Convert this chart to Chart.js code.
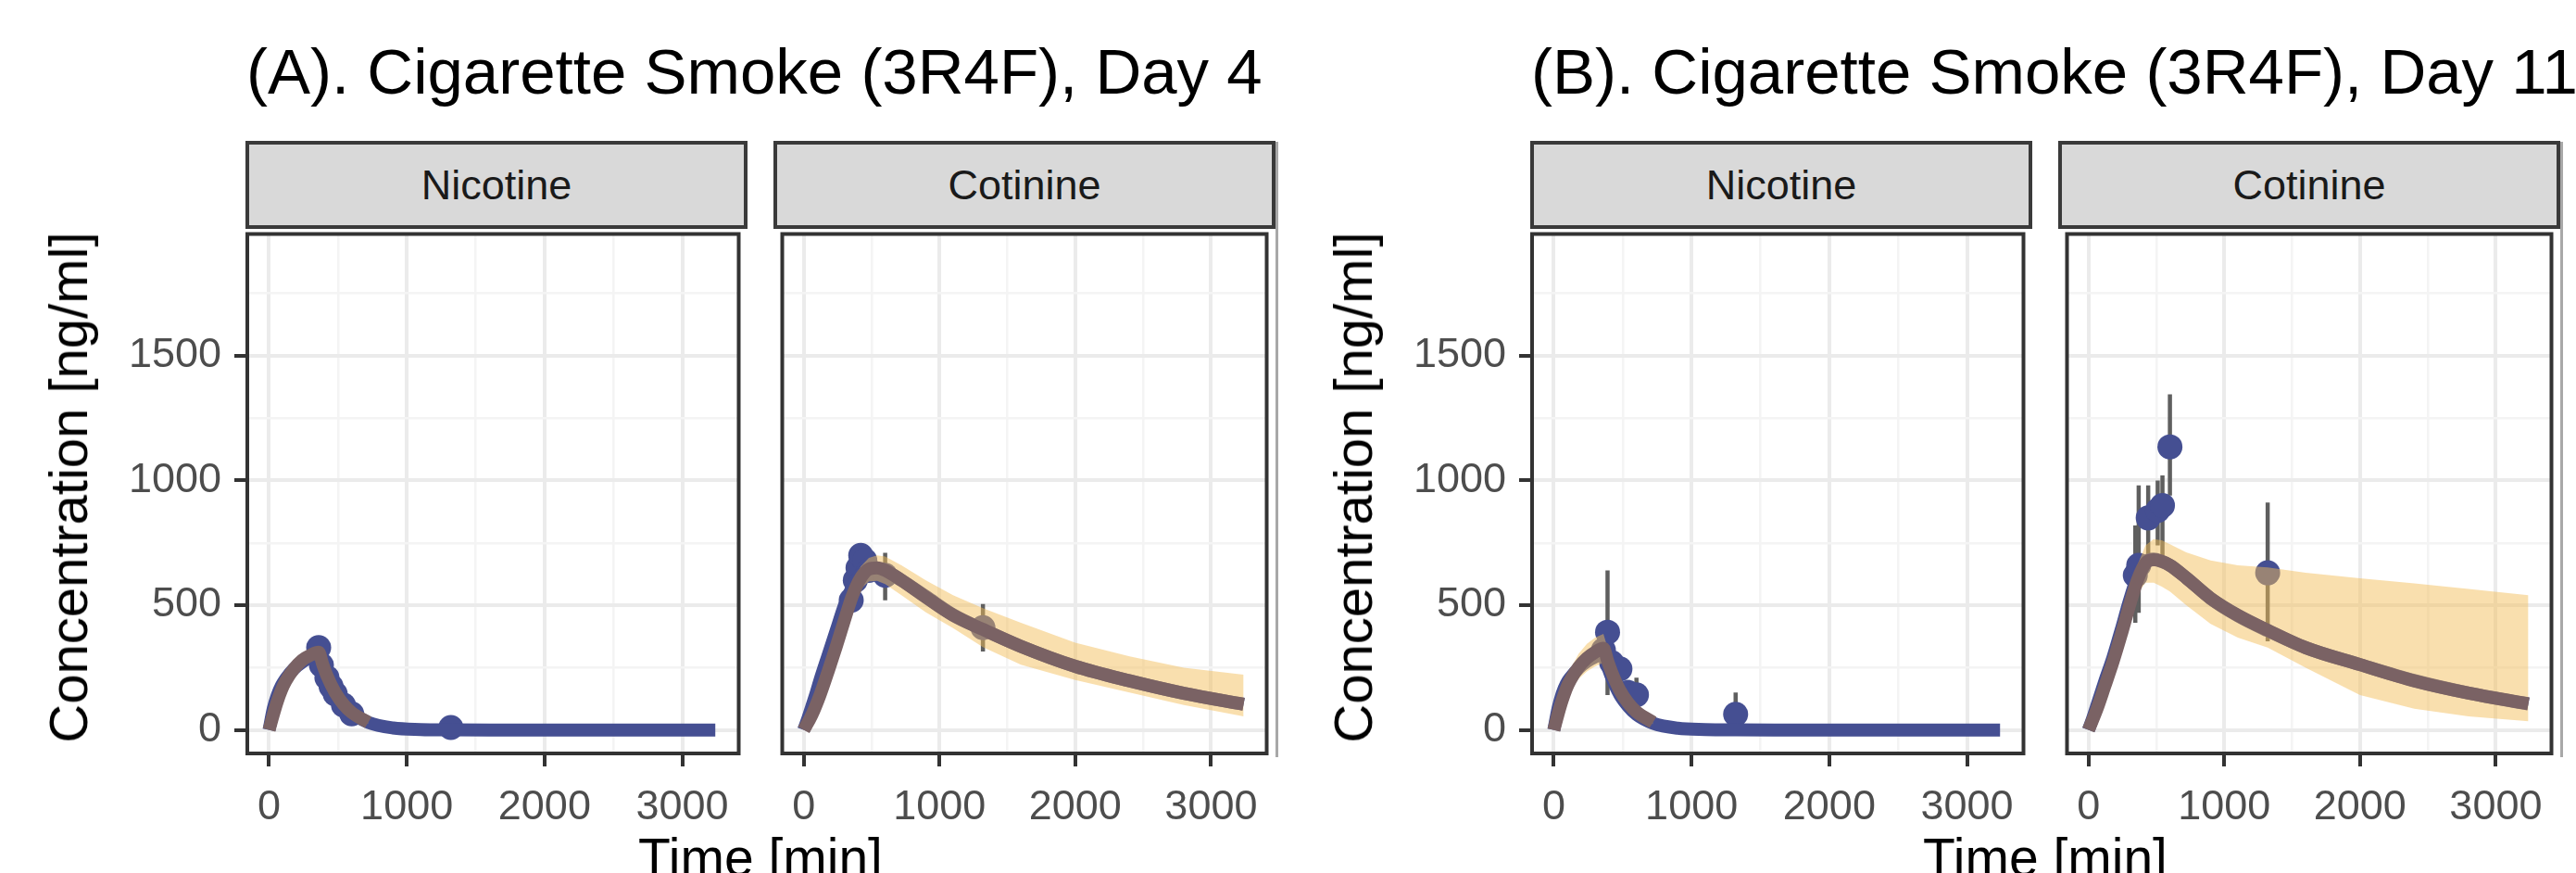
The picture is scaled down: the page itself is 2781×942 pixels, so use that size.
<!DOCTYPE html>
<html>
<head>
<meta charset="utf-8">
<script src="https://cdn.jsdelivr.net/npm/chart.js@4.4.1/dist/chart.umd.min.js"></script>
<style>
html,body{margin:0;padding:0;background:#fff;}
#root{position:relative;width:2781px;height:942px;overflow:hidden;background:#fff;font-family:"Liberation Sans",Arial,Helvetica,sans-serif;}
.title{position:absolute;font-size:69px;line-height:69px;color:#000;white-space:nowrap;}
.strip{position:absolute;box-sizing:border-box;background:#D9D9D9;border:4px solid #3a3a3a;font-size:45px;color:#1a1a1a;display:flex;align-items:center;justify-content:center;}
.ytitle{position:absolute;font-size:58px;line-height:58px;color:#000;white-space:nowrap;transform:translate(-50%,-50%) rotate(-90deg);}
.xtitle{position:absolute;font-size:57px;line-height:57px;color:#000;white-space:nowrap;transform:translateX(-50%);}
.shadow{position:absolute;background:#a8a8a8;}
canvas{position:absolute;}
</style>
</head>
<body>
<div id="root">
  <canvas id="cAN"></canvas>
  <canvas id="cAC"></canvas>
  <canvas id="cBN"></canvas>
  <canvas id="cBC"></canvas>
</div>
<script>
// ---------- text ----------
const plotTitles = ["(A). Cigarette Smoke (3R4F), Day 4", "(B). Cigarette Smoke (3R4F), Day 11"];
const stripLabels = ["Nicotine", "Cotinine"];
const xAxisTitle = "Time [min]";
const yAxisTitle = "Concentration [ng/ml]";

// ---------- axes ----------
const xMajorTicks = [0, 1000, 2000, 3000];
const xMinorTicks = [500, 1500, 2500];
const yMajorTicks = [0, 500, 1000, 1500];
const yMinorTicks = [250, 750, 1250, 1750];
const X_MIN = -158, X_MAX = 3410, Y_MIN = -94, Y_MAX = 1988;

// ---------- model fit (blue line) ----------
const fitTime = [0, 30, 60, 90, 120, 180, 240, 300, 360, 390, 420, 480, 540, 600, 720, 900, 1100, 1320, 1600, 2000, 2400, 2800, 3240];
const nicA_fit = [0, 85, 140, 178, 205, 245, 272, 292, 305, 255, 210, 145, 100, 68, 30, 8, 2, 0.5, 0, 0, 0, 0, 0];
const cotA_fit = [0, 45, 95, 145, 200, 300, 400, 500, 575, 605, 625, 645, 648, 638, 600, 535, 462, 403, 335, 255, 197, 147, 103];
const nicB_fit = [0, 85, 145, 185, 210, 248, 275, 293, 303, 255, 210, 140, 95, 62, 27, 7, 2, 0.5, 0, 0, 0, 0, 0];
const cotB_fit = [0, 45, 95, 145, 195, 290, 400, 515, 615, 650, 675, 685, 675, 660, 610, 527, 458, 398, 330, 262, 198, 148, 104];

// ---------- simulation mean (brown line) and interval (ribbon) ----------
const simNicTime = [0, 30, 60, 90, 120, 180, 240, 300, 360, 390, 420, 480, 540, 600, 720];
const nicA_sim = [0, 60, 115, 160, 195, 245, 280, 300, 312, 262, 218, 150, 103, 70, 30];
const nicA_lo  = [0, 50, 100, 142, 175, 222, 255, 275, 287, 238, 198, 135, 92, 60, 24];
const nicA_hi  = [0, 70, 130, 178, 215, 268, 305, 325, 337, 286, 238, 165, 114, 80, 36];
const nicB_sim = [0, 62, 118, 165, 200, 252, 288, 312, 328, 278, 232, 158, 108, 73, 31];
const nicB_lo  = [0, 48, 95, 132, 162, 205, 235, 255, 270, 228, 190, 128, 88, 58, 23];
const nicB_hi  = [0, 80, 148, 205, 245, 305, 345, 370, 385, 330, 280, 190, 130, 90, 40];

const simCotTime = [0, 60, 120, 180, 240, 300, 360, 420, 480, 540, 600, 720, 900, 1100, 1320, 1600, 2000, 2400, 2800, 3240];
const cotA_sim = [0, 60, 140, 235, 335, 440, 540, 610, 645, 650, 640, 600, 532, 460, 403, 335, 255, 197, 147, 103];
const cotA_lo  = [0, 50, 120, 210, 305, 405, 500, 565, 595, 598, 585, 540, 472, 408, 332, 262, 200, 150, 100, 55];
const cotA_hi  = [0, 70, 160, 260, 365, 475, 580, 655, 690, 700, 695, 660, 600, 540, 488, 430, 350, 295, 250, 222];
const cotB_sim = [0, 80, 175, 272, 380, 495, 600, 668, 682, 676, 660, 610, 528, 460, 400, 330, 262, 197, 148, 105];
const cotB_lo  = [0, 65, 145, 230, 330, 440, 545, 590, 590, 575, 555, 500, 425, 370, 330, 250, 140, 85, 55, 35];
const cotB_hi  = [0, 95, 200, 310, 425, 545, 660, 740, 765, 760, 745, 712, 680, 660, 652, 630, 608, 588, 565, 540];

// ---------- observed data (points with error bars) ----------
const nicA_obsT  = [360, 380, 420, 450, 480, 540, 600, 1320];
const nicA_obsY  = [330, 260, 210, 175, 145, 100, 65, 10];
const nicA_obsLo = [305, 240, 190, 158, 128, 85, 50, 0];
const nicA_obsHi = [355, 280, 230, 192, 162, 115, 80, 20];

const cotA_obsT  = [350, 380, 400, 420, 450, 480, 600, 1320];
const cotA_obsY  = [520, 600, 650, 700, 680, 640, 620, 410];
const cotA_obsLo = [490, 565, 615, 665, 645, 605, 520, 315];
const cotA_obsHi = [550, 635, 685, 735, 715, 675, 710, 505];

const nicB_obsT  = [360, 390, 420, 480, 540, 600, 1320];
const nicB_obsY  = [320, 392, 270, 245, 150, 141, 63];
const nicB_obsLo = [260, 140, 220, 200, 110, 95, -20];
const nicB_obsHi = [380, 640, 320, 290, 200, 210, 150];

const cotB_obsT  = [345, 370, 440, 510, 545, 600, 1320];
const cotB_obsY  = [620, 660, 850, 880, 900, 1135, 630];
const cotB_obsLo = [430, 470, 700, 740, 700, 940, 355];
const cotB_obsHi = [820, 980, 980, 1000, 1020, 1345, 912];

// ---------- styling ----------
const FONT = '"Liberation Sans", Arial, Helvetica, sans-serif';
const BLUE = '#454F92';
const BROWN = '#7A6264';
const RIBBON = 'rgba(243,189,85,0.48)';
const ERRC = '#5f5f5f';

// layout (page px)
const PANEL_TOP = 245, PANEL_BOTTOM = 813, PANEL_W = 538;
const panels = [
  {id: 'cAN', left: 267,  isLeft: true,  strip: 0, fit: nicA_fit, simT: simNicTime, sim: nicA_sim, lo: nicA_lo, hi: nicA_hi, oT: nicA_obsT, oY: nicA_obsY, oLo: nicA_obsLo, oHi: nicA_obsHi},
  {id: 'cAC', left: 837,  isLeft: false, strip: 1, fit: cotA_fit, simT: simCotTime, sim: cotA_sim, lo: cotA_lo, hi: cotA_hi, oT: cotA_obsT, oY: cotA_obsY, oLo: cotA_obsLo, oHi: cotA_obsHi},
  {id: 'cBN', left: 1654, isLeft: true,  strip: 0, fit: nicB_fit, simT: simNicTime, sim: nicB_sim, lo: nicB_lo, hi: nicB_hi, oT: nicB_obsT, oY: nicB_obsY, oLo: nicB_obsLo, oHi: nicB_obsHi},
  {id: 'cBC', left: 2224, isLeft: false, strip: 1, fit: cotB_fit, simT: simCotTime, sim: cotB_sim, lo: cotB_lo, hi: cotB_hi, oT: cotB_obsT, oY: cotB_obsY, oLo: cotB_obsLo, oHi: cotB_obsHi}
];

const root = document.getElementById('root');
function addDiv(cls, text, css) {
  const d = document.createElement('div');
  d.className = cls;
  if (text) d.textContent = text;
  Object.assign(d.style, css);
  root.appendChild(d);
  return d;
}

// titles, axis titles
[[267, 0], [1654, 1]].forEach(([l, k]) => {
  addDiv('title', plotTitles[k], {left: (l - 1) + 'px', top: '43px'});
  addDiv('ytitle', yAxisTitle, {left: (l - 193) + 'px', top: '526px'});
  addDiv('xtitle', xAxisTitle, {left: (l + (570 + PANEL_W) / 2) + 'px', top: '897px'});
});

// strips
panels.forEach(p => {
  addDiv('strip', stripLabels[p.strip], {left: (p.left - 2) + 'px', top: '152px', width: (PANEL_W + 4) + 'px', height: (PANEL_TOP + 2 - 152) + 'px'});
  if (!p.isLeft) addDiv('shadow', '', {left: (p.left + PANEL_W + 2) + 'px', top: '153px', width: '3px', height: (PANEL_BOTTOM + 4 - 153) + 'px'});
});

const borderPlugin = {
  id: 'panelBorder',
  afterDraw(chart) {
    const {ctx, chartArea: a} = chart;
    ctx.save();
    ctx.strokeStyle = '#333333';
    ctx.lineWidth = 4;
    ctx.strokeRect(a.left, a.top, a.right - a.left, a.bottom - a.top);
    ctx.restore();
  }
};

const pts = (xs, ys) => xs.map((x, i) => ({x: x, y: ys[i]}));

panels.forEach(p => {
  const cv = document.getElementById(p.id);
  const yW = p.isLeft ? 180 : 0;
  const padL = p.isLeft ? 0 : 6;
  const padT = 6, padR = 6, xH = 100;
  const W = padL + yW + PANEL_W + padR;
  const H = padT + (PANEL_BOTTOM - PANEL_TOP) + xH;
  cv.width = W; cv.height = H;
  cv.style.width = W + 'px'; cv.style.height = H + 'px';
  cv.style.left = (p.left - yW - padL) + 'px';
  cv.style.top = (PANEL_TOP - padT) + 'px';

  const err = [];
  p.oT.forEach((t, i) => { err.push({x: t, y: p.oLo[i]}, {x: t, y: p.oHi[i]}, {x: t, y: null}); });

  const xAll = xMinorTicks.concat(xMajorTicks).sort((a, b) => a - b);
  const yAll = yMinorTicks.concat(yMajorTicks).sort((a, b) => a - b);

  new Chart(cv, {
    type: 'line',
    data: {
      datasets: [
        {label: 'err', data: err, borderColor: ERRC, borderWidth: 4.5, pointRadius: 0, spanGaps: false, tension: 0, order: 6},
        {label: 'obs', data: pts(p.oT, p.oY), showLine: false, pointRadius: 13.5, pointBackgroundColor: BLUE, pointBorderWidth: 0, pointBorderColor: BLUE, order: 5},
        {label: 'fit', data: pts(fitTime, p.fit), borderColor: BLUE, borderWidth: 14, pointRadius: 0, cubicInterpolationMode: 'monotone', order: 4},
        {label: 'lo', data: pts(p.simT, p.lo), borderColor: 'rgba(0,0,0,0)', borderWidth: 1, pointRadius: 0, fill: false, tension: 0, order: 3},
        {label: 'hi', data: pts(p.simT, p.hi), borderColor: 'rgba(0,0,0,0)', borderWidth: 1, pointRadius: 0, fill: '-1', backgroundColor: RIBBON, tension: 0, order: 3},
        {label: 'sim', data: pts(p.simT, p.sim), borderColor: BROWN, borderWidth: 14, pointRadius: 0, cubicInterpolationMode: 'monotone', order: 2}
      ]
    },
    options: {
      responsive: false,
      animation: false,
      devicePixelRatio: 1,
      events: [],
      layout: {padding: {left: padL, top: padT, right: padR, bottom: 0}},
      plugins: {legend: {display: false}, tooltip: {enabled: false}, title: {display: false}},
      scales: {
        x: {
          type: 'linear', min: X_MIN, max: X_MAX, bounds: 'data',
          afterBuildTicks: s => { s.ticks = xAll.map(v => ({value: v})); },
          afterFit: s => { s.height = xH; s.paddingLeft = 0; s.paddingRight = 0; },
          border: {display: false},
          grid: {
            color: c => xMajorTicks.includes(c.tick.value) ? '#EBEBEB' : '#F4F4F4',
            lineWidth: c => xMajorTicks.includes(c.tick.value) ? 4 : 2.5,
            drawTicks: true, tickLength: 14, tickWidth: 4,
            tickColor: c => xMajorTicks.includes(c.tick.value) ? '#333333' : 'rgba(0,0,0,0)'
          },
          ticks: {
            autoSkip: false, maxRotation: 0, minRotation: 0, padding: 18,
            color: '#4D4D4D', font: {family: FONT, size: 45},
            callback: v => xMajorTicks.includes(v) ? String(v) : ''
          }
        },
        y: {
          type: 'linear', min: Y_MIN, max: Y_MAX, bounds: 'data',
          afterBuildTicks: s => { s.ticks = yAll.map(v => ({value: v})); },
          afterFit: s => { s.width = yW; s.paddingTop = 0; s.paddingBottom = 0; },
          border: {display: false},
          grid: {
            color: c => yMajorTicks.includes(c.tick.value) ? '#EBEBEB' : '#F4F4F4',
            lineWidth: c => yMajorTicks.includes(c.tick.value) ? 4 : 2.5,
            drawTicks: p.isLeft, tickLength: 14, tickWidth: 4,
            tickColor: c => yMajorTicks.includes(c.tick.value) ? '#333333' : 'rgba(0,0,0,0)'
          },
          ticks: {
            display: p.isLeft, autoSkip: false, padding: 14,
            color: '#4D4D4D', font: {family: FONT, size: 45},
            callback: v => yMajorTicks.includes(v) ? String(v) : ''
          }
        }
      }
    },
    plugins: [borderPlugin]
  });
});
</script>
</body>
</html>
